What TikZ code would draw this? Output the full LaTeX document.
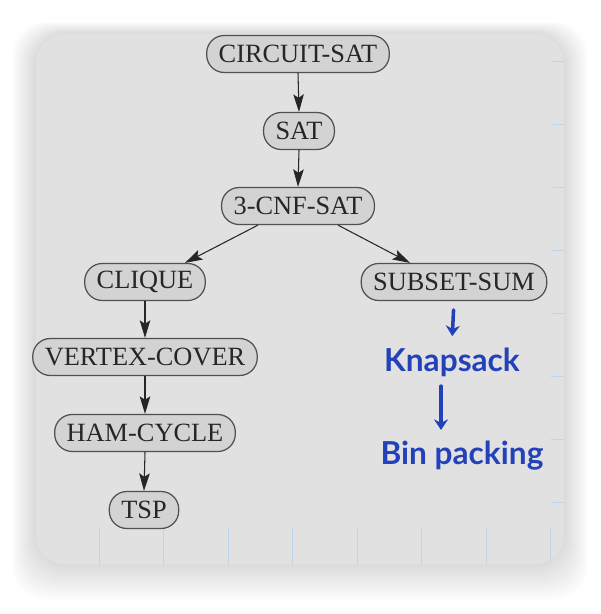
\documentclass[tikz,border=0pt]{standalone}
\usepackage{fontspec}
\setmainfont{Liberation Serif}
\newfontfamily\handfont{Lato}
\usetikzlibrary{arrows.meta}
\definecolor{panel}{RGB}{225,225,225}
\definecolor{boxfill}{RGB}{211,211,211}
\definecolor{boxline}{RGB}{80,80,80}
\definecolor{ink}{RGB}{35,65,185}
\definecolor{rule}{RGB}{188,212,236}

\begin{document}
\begin{tikzpicture}[x=0.02cm,y=-0.02cm,
  prob/.style={draw=boxline,line width=0.7pt,fill=boxfill,rounded corners=10pt,minimum height=0.74cm,
    inner xsep=0.24cm,text=black!85,font=\fontsize{15}{17}\selectfont},
  reduc/.style={black!85,line width=0.6pt,-{Stealth[length=10pt,width=6pt,inset=2pt]}},
  hand/.style={text=ink,font=\handfont\bfseries\fontsize{18}{21}\selectfont},
  handarr/.style={ink,line width=2pt,line cap=round,-{Stealth[length=6pt,width=8pt]}}]
\useasboundingbox (0,0) rectangle (600,614);
\foreach \s in {1,...,12}
  \fill[black,opacity=0.012,rounded corners=0.7cm] (36-2*\s,34-\s) rectangle (564+2*\s,564+3*\s);
\fill[panel,rounded corners=0.6cm] (36,34) rectangle (564,564);
\begin{scope}
\clip[rounded corners=0.6cm] (36,34) rectangle (564,564);
\foreach \y in {61,124,...,502}
  \draw[rule] (551,\y) -- (564,\y);
\foreach \x in {99,163.5,...,555}
  \draw[rule] (\x,528) -- (\x,564);
\end{scope}

\node[prob] (circuit) at (298,54) {CIRCUIT-SAT};
\node[prob] (sat) at (299,131) {SAT};
\node[prob] (cnf) at (298,206) {3-CNF-SAT};
\node[prob] (clique) at (145,282) {CLIQUE};
\node[prob] (subset) at (454,282) {SUBSET-SUM};
\node[prob] (vc) at (145,357) {VERTEX-COVER};
\node[prob] (ham) at (145,433) {HAM-CYCLE};
\node[prob] (tsp) at (144,510) {TSP};

\draw[reduc] (circuit.south) -- (sat.north);
\draw[reduc] (sat.south) -- (cnf.north);
\draw[reduc] ([xshift=-0.8cm]cnf.south) -- ([xshift=0.8cm]clique.north);
\draw[reduc] ([xshift=0.8cm]cnf.south) -- ([xshift=-0.88cm]subset.north);
\draw[reduc] (clique.south) -- (vc.north);
\draw[reduc] (vc.south) -- (ham.north);
\draw[reduc] (ham.south) -- (tsp.north);

\node[hand] (knap) at (452,362) {Knapsack};
\node[hand] (bin) at (462,456) {Bin packing};
\draw[handarr,shorten <=5pt,shorten >=3pt] (subset.south) -- (knap.north);
\draw[handarr,shorten <=2pt,shorten >=3pt] ([xshift=-0.22cm]knap.south) -- ([xshift=-0.22cm]knap.south |- bin.north);
\end{tikzpicture}
\end{document}
